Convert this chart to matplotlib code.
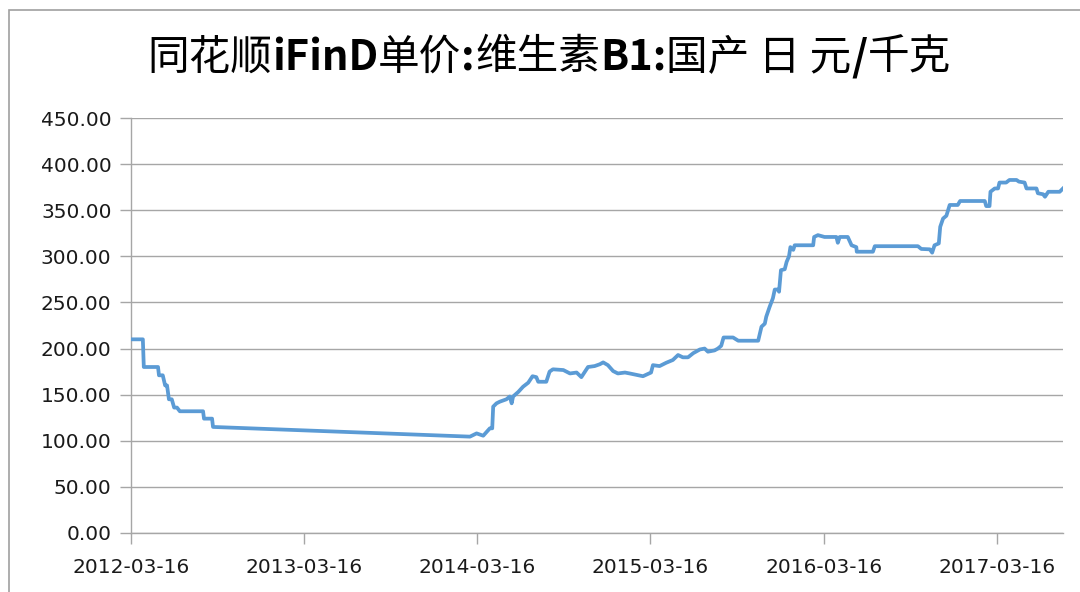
import matplotlib
matplotlib.use("Agg")
import matplotlib.pyplot as plt
import matplotlib.dates as mdates
import pandas as pd
from matplotlib.patches import Rectangle

plt.rcParams["font.family"] = ["DejaVu Sans"]

# title pieces: the latin parts are bold in the source, the hanzi are not
title_parts = [
    ("同花顺", "normal"), ("iFinD", "bold"), ("单价", "normal"), (":", "bold"),
    ("维生素", "normal"), ("B1:", "bold"), ("国产 日 元", "normal"),
    ("/", "bold"), ("千克", "normal"),
]

dates = [
    "2012-03-16", "2012-04-10", "2012-04-12", "2012-05-12", "2012-05-14",
    "2012-05-22", "2012-05-27", "2012-05-31", "2012-06-04", "2012-06-10",
    "2012-06-15", "2012-06-21", "2012-06-27", "2012-08-15", "2012-08-17",
    "2012-09-03", "2012-09-05",
    "2014-03-01", "2014-03-15", "2014-03-29", "2014-04-12", "2014-04-17",
    "2014-04-19", "2014-04-26", "2014-05-03", "2014-05-17", "2014-05-24",
    "2014-05-28", "2014-05-31", "2014-06-11", "2014-06-21", "2014-07-02",
    "2014-07-11", "2014-07-19", "2014-07-23", "2014-08-09", "2014-08-16",
    "2014-08-23", "2014-09-14", "2014-09-28", "2014-10-12", "2014-10-22",
    "2014-11-05", "2014-11-19", "2014-11-30", "2014-12-07", "2014-12-17",
    "2014-12-28", "2015-01-07", "2015-01-22", "2015-02-01", "2015-03-01",
    "2015-03-18", "2015-03-22", "2015-04-05", "2015-04-19", "2015-05-03",
    "2015-05-14", "2015-05-24", "2015-06-04", "2015-06-15", "2015-06-29",
    "2015-07-09", "2015-07-16", "2015-07-30", "2015-08-06", "2015-08-13",
    "2015-08-18", "2015-09-07", "2015-09-18", "2015-10-30", "2015-11-06",
    "2015-11-13", "2015-11-16", "2015-11-23", "2015-11-30", "2015-12-04",
    "2015-12-11", "2015-12-13", "2015-12-17", "2015-12-25", "2015-12-29",
    "2016-01-03", "2016-01-06", "2016-01-12", "2016-01-15", "2016-02-23",
    "2016-02-25", "2016-03-04", "2016-03-11", "2016-03-18", "2016-04-12",
    "2016-04-15", "2016-04-19", "2016-05-06", "2016-05-14", "2016-05-24",
    "2016-05-25", "2016-06-28", "2016-07-02", "2016-10-01", "2016-10-08",
    "2016-10-26", "2016-10-31", "2016-11-05", "2016-11-14", "2016-11-17",
    "2016-11-23", "2016-11-30", "2016-12-07", "2016-12-24", "2016-12-29",
    "2017-02-19", "2017-02-22", "2017-03-01", "2017-03-03", "2017-03-12",
    "2017-03-19", "2017-03-22", "2017-04-05", "2017-04-12", "2017-04-27",
    "2017-05-02", "2017-05-14", "2017-05-18", "2017-06-08", "2017-06-11",
    "2017-06-22", "2017-06-26", "2017-07-03", "2017-07-27", "2017-08-03",
]

prices = [
    210, 210, 180, 180, 171,
    171, 160, 160, 145, 145,
    136, 136, 132, 132, 124,
    124, 115,
    104.5, 108, 105.5, 113.5, 113.5,
    137, 140.6, 142.4, 145, 148,
    140.6, 148, 153, 158.6, 163,
    170, 169, 164, 164, 175,
    177.5, 176.7, 173, 174, 169,
    180, 181, 183, 185, 182,
    175.6, 173, 174, 173, 170,
    174, 182, 181, 184.6, 187.6,
    193, 190.5, 190.5, 195, 199,
    200, 196.6, 198, 200, 203,
    212, 212, 208.5, 208.5, 223.7,
    227, 234.5, 245, 254.5, 264,
    264, 261.6, 285, 286, 294,
    300, 310, 307, 312, 312,
    321, 323, 322, 321, 321,
    314.7, 321, 321, 312, 310,
    305, 305, 311, 311, 308,
    307.6, 304, 312, 314, 332,
    341, 344, 355.7, 355.7, 360,
    360, 354.5, 354.5, 370, 373.6,
    373.6, 380, 380, 382.8, 382.8,
    381, 380, 373.6, 373.6, 368.4,
    367.3, 364.6, 370, 370, 373.6,
]

tick_dates = ["2012-03-16", "2013-03-16", "2014-03-16",
              "2015-03-16", "2016-03-16", "2017-03-16"]
y_ticks = [0, 50, 100, 150, 200, 250, 300, 350, 400, 450]

x = pd.to_datetime(dates)
grid_color = "#a6a6a6"

fig = plt.figure(figsize=(10.8, 5.92), dpi=100)
ax = fig.add_axes([131 / 1080, 1 - 533 / 592, (1063 - 131) / 1080, (533 - 118) / 592])

ax.plot(x, prices, color="#5b9bd5", linewidth=2.7, solid_joinstyle="round", zorder=3)

ax.set_ylim(0, 450)
ax.set_yticks(y_ticks)
ax.set_yticklabels([f"{v:.2f}" for v in y_ticks])
ax.set_xlim(x[0], x[-1])
ax.set_xticks(pd.to_datetime(tick_dates))
ax.xaxis.set_major_formatter(mdates.DateFormatter("%Y-%m-%d"))

ax.grid(axis="y", color=grid_color, linewidth=1.0)
for side in ("top", "right"):
    ax.spines[side].set_visible(False)
for side in ("left", "bottom"):
    ax.spines[side].set_color(grid_color)
    ax.spines[side].set_linewidth(1.0)
ax.tick_params(axis="both", length=8, width=1.0, color=grid_color,
               labelsize=14.5, labelcolor="#1a1a1a")
ax.tick_params(axis="x", pad=10)
ax.tick_params(axis="y", pad=6)

# title built from pieces, then centred as a whole
renderer = fig.canvas.get_renderer()
pieces = []
widths = []
for txt, weight in title_parts:
    t = fig.text(0, 1 - 58 / 592, txt, ha="left", va="center", fontsize=30,
                 fontweight=weight, color="black",
                 family=["Noto Sans CJK SC", "DejaVu Sans"])
    pieces.append(t)
    widths.append(t.get_window_extent(renderer).width / fig.bbox.width)
left = 549 / 1080 - sum(widths) / 2
for t, w in zip(pieces, widths):
    t.set_x(left)
    left += w

# chart area border, cut off at the right and bottom like the source image
fig.patches.append(Rectangle((9 / 1080, -0.1), 1.2, 1 - 10 / 592 + 0.1,
                             transform=fig.transFigure, fill=False,
                             edgecolor="#a0a0a0", linewidth=1.2))

fig.savefig("out.png", dpi=100)
